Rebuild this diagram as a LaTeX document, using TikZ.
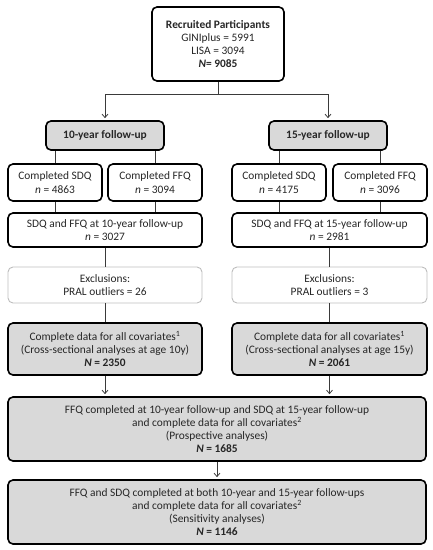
\documentclass[tikz,border=0pt]{standalone}
\usepackage{fontspec}
\setmainfont{Carlito}
\usetikzlibrary{arrows.meta}
\definecolor{boxgray}{HTML}{D9D9D9}
\definecolor{linegray}{HTML}{3A3A3A}
\definecolor{exgray}{HTML}{BDBDBD}
\begin{document}
\begin{tikzpicture}[x=1pt,y=-1pt,
  base/.style={rounded corners=5pt,align=center,inner sep=0pt,font=\fontsize{11.4}{13.2}\selectfont,text=black!85},
  strong/.style={base,draw=black,line width=1.6pt},
  grayb/.style={strong,fill=boxgray},
  exbox/.style={base,draw=exgray,line width=0.9pt},
  conn/.style={draw=linegray,line width=0.8pt},
  arr/.style={conn,-{Straight Barb[length=3.5pt,width=6pt]},shorten >=2pt}]
\useasboundingbox (0,0) rectangle (433,550);
\node[strong,minimum width=132pt,minimum height=74pt] (top) at (218,44)
  {\textbf{Recruited Participants}\\GINIplus = 5991\\LISA = 3094\\\textbf{\textit{N}= 9085}};
\node[grayb,minimum width=118pt,minimum height=29pt] (ten) at (105,135.5) {\textbf{10-year follow-up}};
\node[grayb,minimum width=118pt,minimum height=29pt] (fif) at (328,135.5) {\textbf{15-year follow-up}};
\node[strong,minimum width=94pt,minimum height=37pt] (sdqa) at (55,182.5) {Completed SDQ\\\textit{n} = 4863};
\node[strong,minimum width=94pt,minimum height=37pt] (ffqa) at (155,182.5) {Completed FFQ\\\textit{n} = 3094};
\node[strong,minimum width=94pt,minimum height=37pt] (sdqb) at (279,182.5) {Completed SDQ\\\textit{n} = 4175};
\node[strong,minimum width=94pt,minimum height=37pt] (ffqb) at (380,182.5) {Completed FFQ\\\textit{n} = 3096};
\node[strong,minimum width=194pt,minimum height=34pt] (botha) at (105,230) {SDQ and FFQ at 10-year follow-up\\\textit{n} = 3027};
\node[strong,minimum width=195pt,minimum height=34pt] (bothb) at (329.5,230) {SDQ and FFQ at 15-year follow-up\\\textit{n} = 2981};
\node[exbox,minimum width=194pt,minimum height=36pt] (exa) at (105,285) {Exclusions:\\PRAL outliers = 26};
\node[exbox,minimum width=195pt,minimum height=36pt] (exb) at (329.5,285) {Exclusions:\\PRAL outliers = 3};
\node[grayb,minimum width=194pt,minimum height=52pt] (cda) at (105,349)
  {Complete data for all covariates\textsuperscript{1}\\(Cross-sectional analyses at age 10y)\\\textbf{\textit{N} = 2350}};
\node[grayb,minimum width=195pt,minimum height=52pt] (cdb) at (329.5,349)
  {Complete data for all covariates\textsuperscript{1}\\(Cross-sectional analyses at age 15y)\\\textbf{\textit{N} = 2061}};
\node[grayb,minimum width=418pt,minimum height=64pt] (pro) at (217,429)
  {FFQ completed at 10-year follow-up and SDQ at 15-year follow-up\\and complete data for all covariates\textsuperscript{2}\\(Prospective analyses)\\\textbf{\textit{N} = 1685}};
\node[grayb,minimum width=418pt,minimum height=64pt] (sen) at (217,512)
  {FFQ and SDQ completed at both 10-year and 15-year follow-ups\\and complete data for all covariates\textsuperscript{2}\\(Sensitivity analyses)\\\textbf{\textit{N} = 1146}};
\coordinate (split) at (218,94);
\draw[conn] (top.south) -- (split);
\draw[arr] (split) -| (ten.north);
\draw[arr] (split) -| (fif.north);
\draw[conn] (ten.south -| sdqa.north) -- (sdqa.north);
\draw[conn] (ten.south -| ffqa.north) -- (ffqa.north);
\draw[conn] (fif.south -| sdqb.north) -- (sdqb.north);
\draw[conn] (fif.south -| ffqb.north) -- (ffqb.north);
\draw[conn] (sdqa.south) -- (sdqa.south |- botha.north);
\draw[conn] (ffqa.south) -- (ffqa.south |- botha.north);
\draw[conn] (sdqb.south) -- (sdqb.south |- bothb.north);
\draw[conn] (ffqb.south) -- (ffqb.south |- bothb.north);
\draw[conn] (botha.south) -- (exa.north);
\draw[conn] (bothb.south) -- (exb.north);
\draw[conn] (exa.south) -- (cda.north);
\draw[conn] (exb.south) -- (cdb.north);
\draw[arr] (cda.south) -- (cda.south |- pro.north);
\draw[arr] (cdb.south) -- (cdb.south |- pro.north);
\draw[arr] (pro.south) -- (sen.north);
\end{tikzpicture}
\end{document}
